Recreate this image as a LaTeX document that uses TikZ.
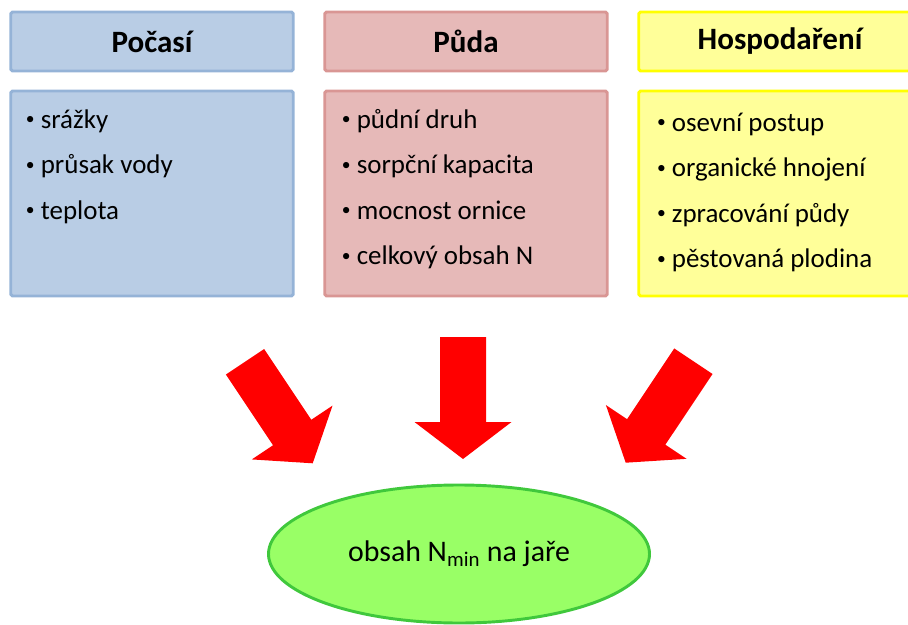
\documentclass[tikz,border=0pt]{standalone}
\usepackage{fontspec}
\setmainfont{Carlito}
\usetikzlibrary{positioning,calc,shapes.geometric}

\definecolor{pocasiFill}{HTML}{B9CDE5}
\definecolor{pocasiLine}{HTML}{95B3D7}
\definecolor{pudaFill}{HTML}{E6B9B8}
\definecolor{pudaLine}{HTML}{D99694}
\definecolor{hospFill}{HTML}{FFFF99}
\definecolor{hospLine}{HTML}{FFFF00}
\definecolor{nminFill}{HTML}{99FF66}
\definecolor{nminLine}{HTML}{40C83C}
\definecolor{arrowRed}{HTML}{FF0000}

\newcommand{\itembullet}{\raisebox{2.6pt}{\fontsize{15}{15}\selectfont •}\ }

\tikzset{
  box/.style={
    draw, line width=2.5pt, rounded corners=1.5pt, outer sep=0pt,
    minimum width=8.475cm,
  },
  header/.style={box, minimum height=1.77cm,
    font=\fontsize{26.5}{30}\selectfont\bfseries},
  body/.style={box, minimum height=6.15cm},
  item/.style={anchor=base west, inner sep=0pt,
    font=\fontsize{23}{27}\selectfont},
  result/.style={
    ellipse, draw=nminLine, fill=nminFill, line width=2.5pt,
    minimum width=11.43cm, minimum height=4.14cm, inner sep=0pt,
    font=\fontsize{25.5}{30}\selectfont,
  },
  bigarrow/.pic={
    \fill[arrowRed] (0,0) -- (48.5,-37) -- (23,-37) -- (23,-122)
      -- (-23,-122) -- (-23,-37) -- (-48.5,-37) -- cycle;
  },
}

\begin{document}
\begin{tikzpicture}[x=0.03cm, y=-0.03cm, node distance=0.6cm and 0.945cm]
\useasboundingbox (0,0) rectangle (908,625);

% ---- headers ----------------------------------------------------------------
\node[header, draw=pocasiLine, fill=pocasiFill] (pocasi) at (152,41.5) {Počasí};
\node[header, draw=pudaLine, fill=pudaFill, right=of pocasi] (puda) {Půda};
\node[header, draw=hospLine, fill=hospFill, right=of puda] (hosp) {Hospodaření};

% ---- factor lists -----------------------------------------------------------
\node[body, draw=pocasiLine, fill=pocasiFill, below=of pocasi] (pocasiBody) {};
\node[body, draw=pudaLine, fill=pudaFill, below=of puda] (pudaBody) {};
\node[body, draw=hospLine, fill=hospFill, below=of hosp] (hospBody) {};

\foreach \txt [count=\i] in {srážky, průsak vody, teplota}
  \node[item] (pocasi-\i) at ($(pocasiBody.north west)+(15,{37+45.5*(\i-1)})$) {\itembullet\txt};
\foreach \txt [count=\i] in {půdní druh, sorpční kapacita, mocnost ornice, celkový obsah N}
  \node[item] (puda-\i) at ($(pudaBody.north west)+(17,{37+45.5*(\i-1)})$) {\itembullet\txt};
\foreach \txt [count=\i] in {osevní postup, organické hnojení, zpracování půdy, pěstovaná plodina}
  \node[item] (hosp-\i) at ($(hospBody.north west)+(18,{40+45.5*(\i-1)})$) {\itembullet\txt};

% ---- result -----------------------------------------------------------------
\node[result] (nmin) at (459,554) {obsah N\textsubscript{min} na jaře};

% ---- big arrows -------------------------------------------------------------
\pic[rotate=33.7] at (312.7,463.3) {bigarrow};
\pic at (463,459) {bigarrow};
\pic[rotate=-33.7] at (625.7,462.7) {bigarrow};

\end{tikzpicture}
\end{document}
